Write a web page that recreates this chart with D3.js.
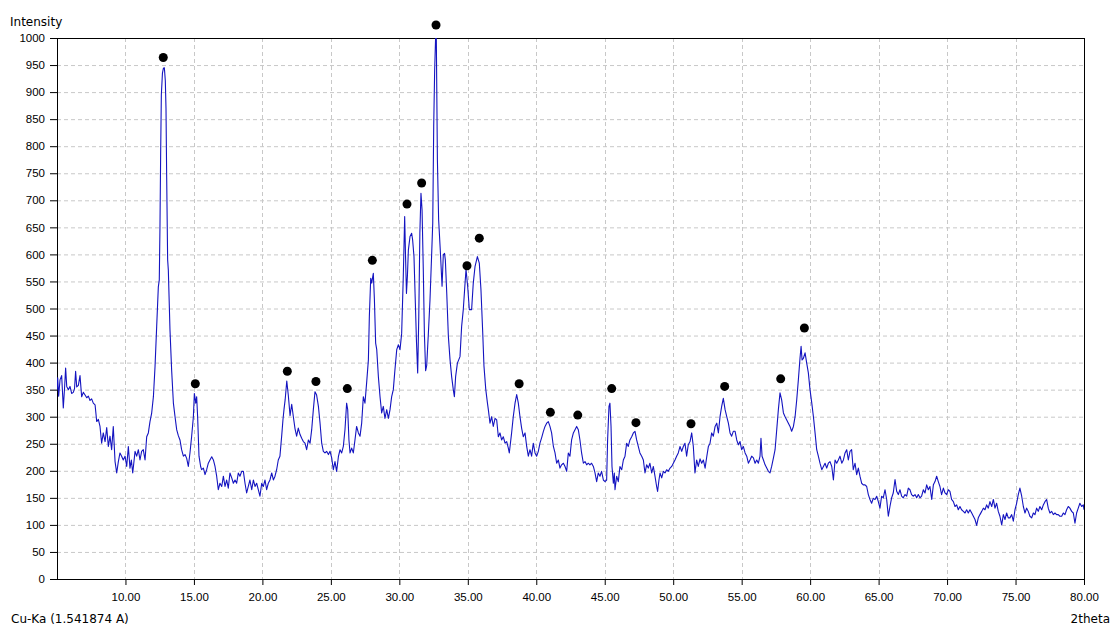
<!DOCTYPE html>
<html>
<head>
<meta charset="utf-8">
<script src="https://cdn.jsdelivr.net/npm/d3@7"></script>
<style>
  body { margin: 0; background: #fff; }
  svg { display: block; font-family: "DejaVu Sans", sans-serif; }
  .tick text { font-size: 11.5px; fill: #000; }
</style>
</head>
<body>
<svg width="1112" height="626"></svg>
<script>
// XRD scan: [2theta, intensity]
let scan = [
  [5.00,350],[5.05,372],[5.12,338],[5.22,368],[5.34,376],[5.46,316],[5.55,352],[5.63,390],[5.71,356],[5.83,350],
  [5.95,356],[6.07,343],[6.19,345],[6.28,352],[6.36,384],[6.44,355],[6.56,358],[6.68,376],[6.80,337],[6.92,345],
  [7.05,340],[7.17,335],[7.29,338],[7.41,330],[7.53,333],[7.65,325],[7.78,322],[7.90,291],[8.02,295],[8.14,282],
  [8.26,251],[8.38,270],[8.51,254],[8.63,280],[8.75,245],[8.87,264],[8.99,239],[9.11,282],[9.24,217],[9.36,196],
  [9.48,217],[9.60,233],[9.72,227],[9.84,220],[9.97,227],[10.09,208],[10.21,245],[10.33,205],[10.43,220],[10.53,196],
  [10.70,236],[10.82,227],[10.94,239],[11.06,220],[11.18,236],[11.30,239],[11.43,220],[11.55,263],[11.67,270],[11.79,291],
  [11.91,306],[12.04,337],[12.16,393],[12.28,467],[12.40,540],[12.47,553],[12.52,651],[12.57,787],[12.62,895],[12.70,935],
  [12.77,944],[12.84,945],[12.91,921],[12.96,870],[13.01,741],[13.08,590],[13.13,571],[13.25,461],[13.37,387],[13.50,325],
  [13.62,300],[13.74,276],[13.86,265],[13.98,257],[14.10,239],[14.23,227],[14.35,230],[14.47,223],[14.59,208],[14.71,233],
  [14.83,263],[14.96,300],[15.03,343],[15.13,325],[15.20,337],[15.27,300],[15.37,227],[15.49,208],[15.56,202],[15.69,205],
  [15.81,193],[15.93,202],[16.05,214],[16.17,220],[16.30,226],[16.42,220],[16.54,208],[16.66,190],[16.78,165],[16.90,177],
  [17.03,171],[17.15,190],[17.27,171],[17.39,183],[17.51,168],[17.63,196],[17.76,187],[17.88,177],[18.00,183],[18.12,177],
  [18.24,196],[18.36,190],[18.49,199],[18.61,199],[18.73,177],[18.85,159],[18.97,171],[19.09,183],[19.22,165],[19.34,183],
  [19.46,171],[19.58,177],[19.70,165],[19.82,153],[19.95,177],[20.07,171],[20.19,183],[20.31,165],[20.43,177],[20.55,183],
  [20.68,196],[20.80,183],[20.92,190],[21.04,202],[21.16,220],[21.28,227],[21.41,265],[21.50,294],[21.58,314],[21.66,331],
  [21.78,366],[21.89,340],[22.02,302],[22.14,323],[22.26,300],[22.38,278],[22.50,264],[22.62,279],[22.75,267],[22.87,260],
  [22.99,254],[23.11,251],[23.23,239],[23.36,257],[23.48,251],[23.60,276],[23.72,313],[23.84,346],[23.96,340],[24.09,319],
  [24.21,288],[24.33,251],[24.45,236],[24.57,233],[24.69,236],[24.82,230],[24.94,236],[25.06,224],[25.18,202],[25.30,217],
  [25.42,199],[25.55,226],[25.67,239],[25.79,233],[25.91,245],[26.03,276],[26.15,325],[26.23,313],[26.32,257],[26.40,233],
  [26.52,242],[26.64,233],[26.76,257],[26.88,282],[27.01,270],[27.13,264],[27.25,288],[27.37,337],[27.49,325],[27.61,362],
  [27.74,405],[27.81,485],[27.91,556],[27.98,547],[28.10,565],[28.18,516],[28.27,436],[28.35,424],[28.47,374],[28.59,337],
  [28.71,307],[28.83,319],[28.95,297],[29.08,313],[29.20,297],[29.32,313],[29.44,337],[29.56,350],[29.68,387],[29.81,424],
  [29.93,433],[30.05,424],[30.17,454],[30.29,560],[30.39,670],[30.45,600],[30.52,528],[30.59,560],[30.66,608],[30.78,633],
  [30.90,639],[30.97,627],[31.07,596],[31.17,510],[31.25,440],[31.34,381],[31.42,485],[31.50,640],[31.58,713],[31.66,682],
  [31.75,571],[31.83,454],[31.92,385],[32.00,395],[32.12,454],[32.24,516],[32.36,600],[32.44,658],[32.51,836],[32.58,941],
  [32.65,1002],[32.70,1002],[32.78,775],[32.87,664],[32.99,608],[33.12,541],[33.21,599],[33.30,602],[33.36,590],[33.46,530],
  [33.58,449],[33.70,406],[33.82,374],[33.94,350],[34.02,337],[34.11,374],[34.24,399],[34.43,411],[34.55,467],[34.67,498],
  [34.80,547],[34.87,572],[34.99,541],[35.11,498],[35.28,498],[35.40,547],[35.53,578],[35.70,596],[35.84,584],[35.96,535],
  [36.09,455],[36.18,394],[36.31,351],[36.43,326],[36.50,313],[36.62,288],[36.74,300],[36.86,282],[36.99,297],[37.11,294],
  [37.23,263],[37.35,270],[37.47,257],[37.59,263],[37.72,251],[37.84,254],[37.96,242],[38.03,233],[38.20,270],[38.32,300],
  [38.45,325],[38.57,341],[38.69,325],[38.81,300],[38.93,279],[39.05,263],[39.18,270],[39.30,245],[39.42,227],[39.54,239],
  [39.66,227],[39.78,251],[39.91,233],[40.03,227],[40.15,236],[40.27,251],[40.39,261],[40.52,273],[40.64,282],[40.76,288],
  [40.88,291],[41.00,282],[41.12,270],[41.25,245],[41.37,233],[41.49,214],[41.61,220],[41.73,205],[41.85,211],[41.98,214],
  [42.10,208],[42.22,199],[42.34,233],[42.46,227],[42.58,257],[42.71,270],[42.83,276],[42.95,282],[43.07,276],[43.19,257],
  [43.31,233],[43.44,214],[43.56,217],[43.68,211],[43.80,214],[43.92,211],[44.04,214],[44.17,208],[44.29,196],[44.41,180],
  [44.53,196],[44.65,190],[44.77,199],[44.90,183],[45.02,180],[45.14,183],[45.21,257],[45.31,319],[45.38,325],[45.46,282],
  [45.53,208],[45.63,177],[45.70,196],[45.75,165],[45.87,190],[45.99,180],[46.11,208],[46.24,202],[46.36,220],[46.48,227],
  [46.60,251],[46.72,245],[46.84,257],[46.97,263],[47.09,270],[47.21,273],[47.33,257],[47.45,245],[47.57,233],[47.70,227],
  [47.82,220],[47.94,196],[48.06,211],[48.18,205],[48.30,214],[48.43,196],[48.55,208],[48.67,190],[48.79,171],[48.86,162],
  [48.96,183],[49.04,196],[49.16,187],[49.28,199],[49.40,196],[49.52,202],[49.64,199],[49.77,205],[49.89,208],[50.01,214],
  [50.13,220],[50.25,227],[50.37,233],[50.50,245],[50.62,236],[50.74,245],[50.86,251],[50.98,227],[51.10,248],[51.23,254],
  [51.35,270],[51.47,245],[51.59,196],[51.71,220],[51.83,208],[51.96,222],[52.08,214],[52.20,220],[52.33,205],[52.45,226],
  [52.57,245],[52.69,251],[52.81,270],[52.93,264],[53.06,282],[53.18,288],[53.30,270],[53.42,300],[53.54,319],[53.66,334],
  [53.79,313],[53.91,300],[54.03,288],[54.15,270],[54.27,264],[54.39,273],[54.52,273],[54.64,257],[54.76,248],[54.88,254],
  [55.00,239],[55.12,245],[55.25,233],[55.37,227],[55.49,214],[55.61,220],[55.73,227],[55.86,224],[55.98,214],[56.10,220],
  [56.22,214],[56.34,227],[56.41,260],[56.49,227],[56.59,220],[56.71,211],[56.83,205],[56.95,199],[57.07,196],[57.19,208],
  [57.32,224],[57.44,239],[57.56,276],[57.68,313],[57.80,344],[57.92,331],[58.05,307],[58.17,300],[58.29,294],[58.41,288],
  [58.53,282],[58.65,273],[58.78,282],[58.90,300],[59.02,331],[59.14,368],[59.26,408],[59.34,430],[59.41,405],[59.51,408],
  [59.63,418],[59.75,399],[59.87,381],[59.99,350],[60.12,325],[60.24,300],[60.36,270],[60.48,239],[60.60,227],[60.72,214],
  [60.85,202],[60.97,208],[61.09,214],[61.21,205],[61.33,214],[61.45,217],[61.58,208],[61.70,183],[61.82,220],[61.94,214],
  [62.06,220],[62.18,227],[62.31,214],[62.43,220],[62.55,233],[62.67,239],[62.79,220],[62.91,236],[63.03,239],[63.15,202],
  [63.28,214],[63.40,193],[63.52,205],[63.64,190],[63.76,177],[63.88,174],[64.01,174],[64.13,171],[64.25,156],[64.37,147],
  [64.49,140],[64.61,149],[64.74,147],[64.86,153],[64.98,143],[65.10,131],[65.22,153],[65.34,150],[65.47,165],[65.59,147],
  [65.71,116],[65.83,134],[65.95,150],[66.07,159],[66.20,184],[66.32,162],[66.44,156],[66.56,165],[66.68,153],[66.80,150],
  [66.93,156],[67.05,153],[67.17,168],[67.29,165],[67.41,156],[67.54,153],[67.66,156],[67.78,150],[67.90,156],[68.02,150],
  [68.14,153],[68.27,165],[68.39,159],[68.51,174],[68.63,165],[68.75,171],[68.88,147],[69.00,174],[69.12,180],[69.24,190],
  [69.36,180],[69.48,171],[69.60,156],[69.73,168],[69.85,159],[69.97,156],[70.09,165],[70.21,162],[70.33,147],[70.46,143],
  [70.58,134],[70.70,137],[70.82,128],[70.94,134],[71.06,128],[71.19,125],[71.31,122],[71.43,128],[71.55,122],[71.67,128],
  [71.80,122],[71.92,116],[72.04,110],[72.16,99],[72.28,113],[72.40,119],[72.53,125],[72.65,131],[72.77,128],[72.89,137],
  [73.01,131],[73.13,143],[73.26,134],[73.38,147],[73.50,131],[73.62,140],[73.74,125],[73.86,116],[73.99,100],[74.11,119],
  [74.23,110],[74.35,122],[74.47,113],[74.59,113],[74.72,119],[74.84,107],[74.96,128],[75.08,140],[75.20,156],[75.32,168],
  [75.45,153],[75.57,134],[75.69,122],[75.81,131],[75.93,125],[76.05,116],[76.18,113],[76.30,122],[76.42,119],[76.54,131],
  [76.66,125],[76.78,134],[76.91,128],[77.03,137],[77.15,143],[77.27,147],[77.39,131],[77.51,122],[77.64,125],[77.76,119],
  [77.88,122],[78.00,119],[78.12,119],[78.24,116],[78.37,116],[78.49,122],[78.61,119],[78.73,128],[78.85,134],[78.97,131],
  [79.10,125],[79.22,122],[79.34,103],[79.46,122],[79.58,131],[79.70,140],[79.83,134],[79.95,137],[80.00,128]
];

// marked reflections (black dots)
let peaks = [
  [12.76,964],[15.10,361],[21.82,384],[23.91,365],[26.20,352],[28.03,589],[30.56,693],[31.63,732],
  [32.68,1024],[34.94,579],[35.84,630],[38.75,361],[41.03,308],[43.03,303],[45.51,352],[47.28,289],
  [51.30,287],[53.76,356],[57.85,370],[59.58,464]
];

let xTicks = [10, 15, 20, 25, 30, 35, 40, 45, 50, 55, 60, 65, 70, 75, 80];
let yTicks = d3.range(0, 1001, 50);

/***************************/

let margin = {top: 38, right: 28, bottom: 47, left: 57};
let width = 1112 - margin.left - margin.right;
let height = 626 - margin.top - margin.bottom;

let xScale = d3.scaleLinear().domain([5, 80]).range([0, width]);
let yScale = d3.scaleLinear().domain([0, 1000]).range([height, 0]);

let svg = d3.select("svg");

let g = svg.append("g")
  .attr("transform", `translate(${margin.left}, ${margin.top})`);

g.append("clipPath").attr("id", "plot-clip")
  .append("rect").attr("width", width).attr("height", height);

// dashed grid
g.append("g").selectAll("line")
  .data(yTicks.filter(d => d > 0 && d < 1000))
  .join("line")
  .attr("x1", 0).attr("x2", width)
  .attr("y1", d => yScale(d) + 0.5).attr("y2", d => yScale(d) + 0.5)
  .attr("stroke", "#c8c8c8").attr("stroke-dasharray", "4,3");

g.append("g").selectAll("line")
  .data(xTicks.filter(d => d < 80))
  .join("line")
  .attr("x1", d => Math.round(xScale(d)) + 0.5).attr("x2", d => Math.round(xScale(d)) + 0.5)
  .attr("y1", 0).attr("y2", height)
  .attr("stroke", "#c8c8c8").attr("stroke-dasharray", "4,3");

// axes
let xAxis = d3.axisBottom(xScale)
  .tickValues(xTicks)
  .tickFormat(d3.format(".2f"))
  .tickSize(6).tickSizeOuter(0).tickPadding(8);

let yAxis = d3.axisLeft(yScale)
  .tickValues(yTicks)
  .tickFormat(d3.format("d"))
  .tickSize(7).tickSizeOuter(0).tickPadding(5);

g.append("g").attr("transform", `translate(0, ${height})`).call(xAxis)
  .call(a => a.select(".domain").remove());
g.append("g").call(yAxis)
  .call(a => a.select(".domain").remove());

// frame
g.append("rect")
  .attr("x", 0.5).attr("y", 0.5)
  .attr("width", width).attr("height", height)
  .attr("fill", "none").attr("stroke", "#000");

// the scan
let line = d3.line()
  .x(d => xScale(d[0]))
  .y(d => yScale(d[1]));

g.append("path")
  .datum(scan)
  .attr("clip-path", "url(#plot-clip)")
  .attr("fill", "none")
  .attr("stroke", "#1414c0")
  .attr("stroke-width", 1.1)
  .attr("stroke-linejoin", "round")
  .attr("d", line);

g.append("g").selectAll("circle")
  .data(peaks)
  .join("circle")
  .attr("cx", d => xScale(d[0]))
  .attr("cy", d => yScale(d[1]))
  .attr("r", 4.5)
  .attr("fill", "#000");

// labels
svg.append("text").attr("x", 10).attr("y", 26)
  .style("font-size", "12px").text("Intensity");
svg.append("text").attr("x", 11).attr("y", 623)
  .style("font-size", "12px").text("Cu-Ka (1.541874 A)");
svg.append("text").attr("x", 1110).attr("y", 623)
  .attr("text-anchor", "end")
  .style("font-size", "12px").text("2theta");
</script>
</body>
</html>
